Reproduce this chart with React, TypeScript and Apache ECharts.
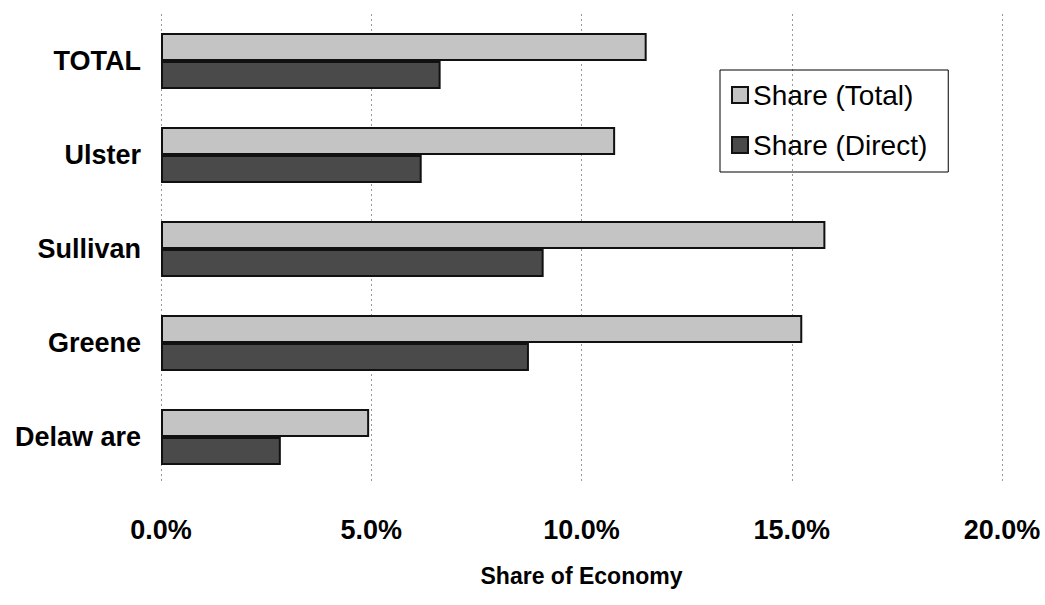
import React, { useEffect, useRef } from "react";
import * as echarts from "echarts";

const categories = ["Delaw are", "Greene", "Sullivan", "Ulster", "TOTAL"];
const shareTotal = [4.95, 15.25, 15.8, 10.8, 11.55];
const shareDirect = [2.85, 8.75, 9.1, 6.2, 6.65];
const xTicks = [0, 5, 10, 15, 20];

export default function App() {
  const ref = useRef<HTMLDivElement>(null);
  useEffect(() => {
    if (!ref.current) return;
    const chart = echarts.init(ref.current, null, { renderer: "svg" });
    const font = "'Liberation Sans', Arial, sans-serif";
    chart.setOption({
      animation: false,
      backgroundColor: "#ffffff",
      textStyle: { fontFamily: font },
      grid: { left: 161, right: 43, top: 14, bottom: 121, containLabel: false },
      legend: {
        orient: "vertical",
        left: 720,
        top: 70,
        padding: [11, 21, 13, 11],
        borderColor: "#000",
        borderWidth: 1,
        icon: "rect",
        itemWidth: 16,
        itemHeight: 16,
        itemGap: 22,
        textStyle: { fontSize: 28, color: "#000", fontFamily: font },
        data: ["Share (Total)", "Share (Direct)"],
      },
      xAxis: {
        type: "value",
        min: xTicks[0],
        max: xTicks[xTicks.length - 1],
        interval: 5,
        name: "Share of Economy",
        nameLocation: "middle",
        nameGap: 80,
        nameTextStyle: { fontSize: 23, fontWeight: "bold", color: "#000", fontFamily: font },
        axisLine: { show: false },
        axisTick: { show: false },
        axisLabel: {
          margin: 32,
          fontSize: 27,
          fontWeight: "bold",
          color: "#000",
          fontFamily: font,
          formatter: (v: number) => v.toFixed(1) + "%",
        },
        splitLine: { show: true, lineStyle: { color: "#999", type: [2, 3], width: 1 } },
      },
      yAxis: {
        type: "category",
        data: categories,
        axisLine: { show: false },
        axisTick: { show: false },
        axisLabel: {
          margin: 20,
          fontSize: 27,
          fontWeight: "bold",
          color: "#000",
          fontFamily: font,
          padding: [0, 0, 6, 0],
        },
      },
      series: [
        {
          name: "Share (Total)",
          type: "bar",
          data: shareTotal,
          barWidth: 28,
          barGap: "0%",
          itemStyle: { color: "#c4c4c4", borderColor: "#111", borderWidth: 2 },
        },
        {
          name: "Share (Direct)",
          type: "bar",
          data: shareDirect,
          barWidth: 28,
          barGap: "0%",
          itemStyle: { color: "#4a4a4a", borderColor: "#111", borderWidth: 2 },
        },
      ],
    });
    return () => chart.dispose();
  }, []);
  return <div ref={ref} style={{ width: 1045, height: 605, position: "absolute", left: 0, top: 0 }} />;
}
